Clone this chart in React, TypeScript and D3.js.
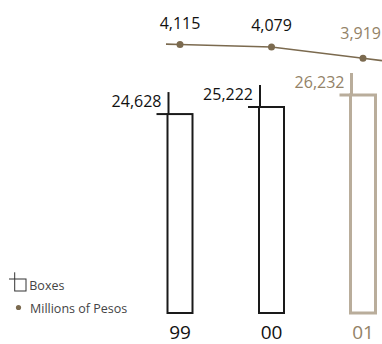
import React from "react";
import * as d3 from "d3";

const categories = ["99", "00", "01"];
const boxes = [24628, 25222, 26232];
const pesos = [4115, 4079, 3919];
const boxLabels = ["24,628", "25,222", "26,232"];
const pesoLabels = ["4,115", "4,079", "3,919"];

const W = 382;
const H = 344;
const FONT = "'Open Sans', sans-serif";
const BROWN = "#7b6a4f";
const TAN = "#b9ad9b";
const TAN_TEXT = "#938267";
const INK = "#111";

export default function App() {
  const x = d3.scalePoint<string>().domain(categories).range([180, 363]);
  const yBar = d3.scaleLinear().domain([7900, 26232]).range([313, 95]);
  const yLine = d3.scaleLinear().domain([3919, 4115]).range([58.3, 44.5]);
  const bw = 25;

  const pts: [number, number][] = categories.map((c, i) => [x(c)!, yLine(pesos[i])]);
  const first = pts[0], second = pts[1];
  const s0 = (second[1] - first[1]) / (second[0] - first[0]);
  const last = pts[pts.length - 1], prev = pts[pts.length - 2];
  const s1 = (last[1] - prev[1]) / (last[0] - prev[0]);
  const ext: [number, number][] = [
    [first[0] - 14, first[1] - 14 * s0],
    ...pts,
    [W, last[1] + (W - last[0]) * s1],
  ];
  const line = d3.line();

  return (
    <svg width={W} height={H} style={{ position: "absolute", left: 0, top: 0 }} fontFamily={FONT}>
      <rect width={W} height={H} fill="#fff" />
      {categories.map((c, i) => {
        const cx = x(c)!;
        const isLast = i === categories.length - 1;
        const col = isLast ? TAN : "#1a1a1a";
        const sw = isLast ? 3 : 2;
        const left = cx - bw / 2;
        const top = yBar(boxes[i]);
        const bottom = yBar.range()[0];
        return (
          <g key={c}>
            <rect x={left} y={top} width={bw} height={bottom - top} fill="none" stroke={col} strokeWidth={sw} />
            <line x1={left + 1} x2={left + 1} y1={top - 22} y2={top} stroke={col} strokeWidth={sw} />
            <line x1={left - 11} x2={left} y1={top} y2={top} stroke={col} strokeWidth={sw} />
            <text
              x={left - 6}
              y={top - 7.5}
              textAnchor="end"
              fontSize={16}
              fill={isLast ? TAN_TEXT : INK}
            >
              {boxLabels[i]}
            </text>
            <text x={cx} y={338.5} textAnchor="middle" fontSize={19} fill={isLast ? TAN_TEXT : INK}>
              {c}
            </text>
          </g>
        );
      })}
      <path d={line(ext)!} fill="none" stroke={BROWN} strokeWidth={1.6} />
      {pts.map((p, i) => {
        const isLast = i === pts.length - 1;
        return (
          <g key={i}>
            <circle cx={p[0]} cy={p[1]} r={3.5} fill={BROWN} />
            <text
              x={isLast ? W - 1 : p[0]}
              y={isLast ? p[1] - 19.3 : p[1] - 16}
              textAnchor={isLast ? "end" : "middle"}
              fontSize={16}
              fill={isLast ? TAN_TEXT : INK}
            >
              {pesoLabels[i]}
            </text>
          </g>
        );
      })}
      <g>
        <rect x={14.7} y={279} width={11.3} height={12} fill="none" stroke="#333" strokeWidth={1} />
        <line x1={14.7} x2={14.7} y1={272.3} y2={279} stroke="#333" strokeWidth={1} />
        <line x1={9} x2={14.7} y1={279} y2={279} stroke="#333" strokeWidth={1} />
        <text x={29.3} y={289.5} fontSize={12.5} fill="#444">Boxes</text>
        <circle cx={18.5} cy={307.5} r={2.6} fill={BROWN} />
        <text x={30} y={313} fontSize={12.5} fill="#444">Millions of Pesos</text>
      </g>
    </svg>
  );
}
